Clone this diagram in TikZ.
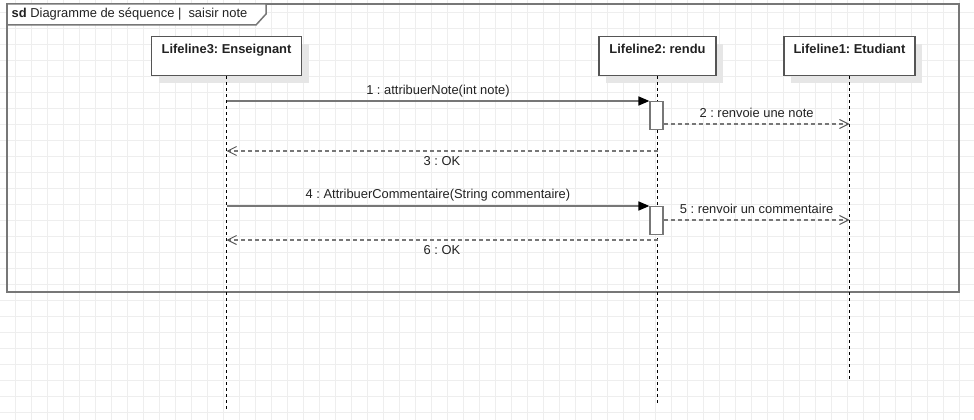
\documentclass[tikz,border=0pt]{standalone}
\usepackage{fontspec}
\setmainfont{Liberation Sans}
\usepackage{xcolor}
\usetikzlibrary{arrows.meta,shadows,calc,positioning}
\definecolor{gridgray}{HTML}{EEEEEE}
\definecolor{linegray}{HTML}{777777}
\definecolor{boxgray}{HTML}{555555}
\definecolor{shadowgray}{HTML}{E6E6E6}
\definecolor{textdark}{HTML}{222222}
\newcommand{\umlfont}{\fontsize{12.9pt}{15pt}\selectfont}
\frenchspacing

\begin{document}
\begin{tikzpicture}[x=1pt, y=-1pt]
		\tikzstyle{every node}=[font=\umlfont, text=textdark]
		\tikzstyle{gridline}=[gridgray, line width=1pt]
		\tikzstyle{frame}=[linegray, line width=1.5pt]
		\tikzstyle{lifebox}=[draw=boxgray, fill=white, line width=1.2pt, minimum width=150pt, inner sep=0pt, anchor=north, text height=16.5pt, text depth=22.5pt, font=\umlfont\bfseries, drop shadow={shadow xshift=7pt, shadow yshift=-7pt, fill=shadowgray, opacity=1}]
		\tikzstyle{lifeline}=[black, line width=1pt, dash pattern=on 3pt off 3pt]
		\tikzstyle{actbox}=[draw=linegray, fill=white, line width=1.2pt, minimum width=13pt, minimum height=28pt, inner sep=0pt, anchor=north]
		\tikzstyle{call}=[linegray, line width=1.6pt, -{Triangle[length=11pt, width=9pt, color=black]}]
		\tikzstyle{reply}=[linegray, line width=1.3pt, dash pattern=on 4pt off 3pt, -{Straight Barb[length=9pt, width=9pt, line width=1pt, color=boxgray]}]
		\tikzstyle{msg}=[inner sep=3pt, text height=9.5pt, text depth=2.8pt]
		\useasboundingbox (0,0) rectangle (974,420);
		% background grid
		\foreach \gx in {15.5,31.5,...,974} \draw[gridline] (\gx,0) -- (\gx,420);
		\foreach \gy in {12.5,28.5,...,420} \draw[gridline] (0,\gy) -- (974,\gy);
		% frame
		\draw[frame] (7,4) rectangle (959,292);
		\draw[frame, fill=white] (7,4) -- (266,4) -- (266,14) -- (256,25) -- (7,25) -- cycle;
		\node[anchor=west, inner sep=0pt] (title) at (11.5,14.5) {\textbf{sd} Diagramme de séquence |\ \ saisir note};
		% lifelines
		\node[lifebox] (ens) at (226.5,36) {Lifeline3: Enseignant};
		\node[lifebox, minimum width=117pt] (rendu) at (657.5,36) {Lifeline2: rendu};
		\node[lifebox, minimum width=131pt] (etu) at (849.5,36) {Lifeline1: Etudiant};
		\coordinate (ensEnd) at (226.5,409);
		\coordinate (renduEnd) at (657.5,403);
		\coordinate (etuEnd) at (849.5,379);
		\draw[lifeline] (ens.south) -- (ensEnd);
		\draw[lifeline] (rendu.south) -- (renduEnd);
		\draw[lifeline] (etu.south) -- (etuEnd);
		% activations
		\node[actbox] (act1) at (656.5,101) {};
		\node[actbox] (act2) at (656.5,206) {};
		% messages
		\coordinate (m2) at (0,124);
		\coordinate (m3) at (0,151);
		\coordinate (m5) at (0,220);
		\coordinate (m6) at (0,240);
		\draw[call] (ens.south |- act1.north) -- (act1.north west) node[msg, midway, above=0pt] {1 : attribuerNote(int note)};
		\draw[reply] (act1.east |- m2) -- (etu.south |- m2) node[msg, midway, above=0pt] {2 : renvoie une note};
		\draw[reply] (rendu.south |- m3) -- (ens.south |- m3) node[msg, midway, below=1.5pt] {3 : OK};
		\draw[call] (ens.south |- act2.north) -- (act2.north west) node[msg, midway, above=1pt] {4 : AttribuerCommentaire(String commentaire)};
		\draw[reply] (act2.east |- m5) -- (etu.south |- m5) node[msg, midway, above=0pt] {5 : renvoir un commentaire};
		\draw[reply] (rendu.south |- m6) -- (ens.south |- m6) node[msg, midway, below=1.5pt] {6 : OK};
	\end{tikzpicture}
\end{document}
